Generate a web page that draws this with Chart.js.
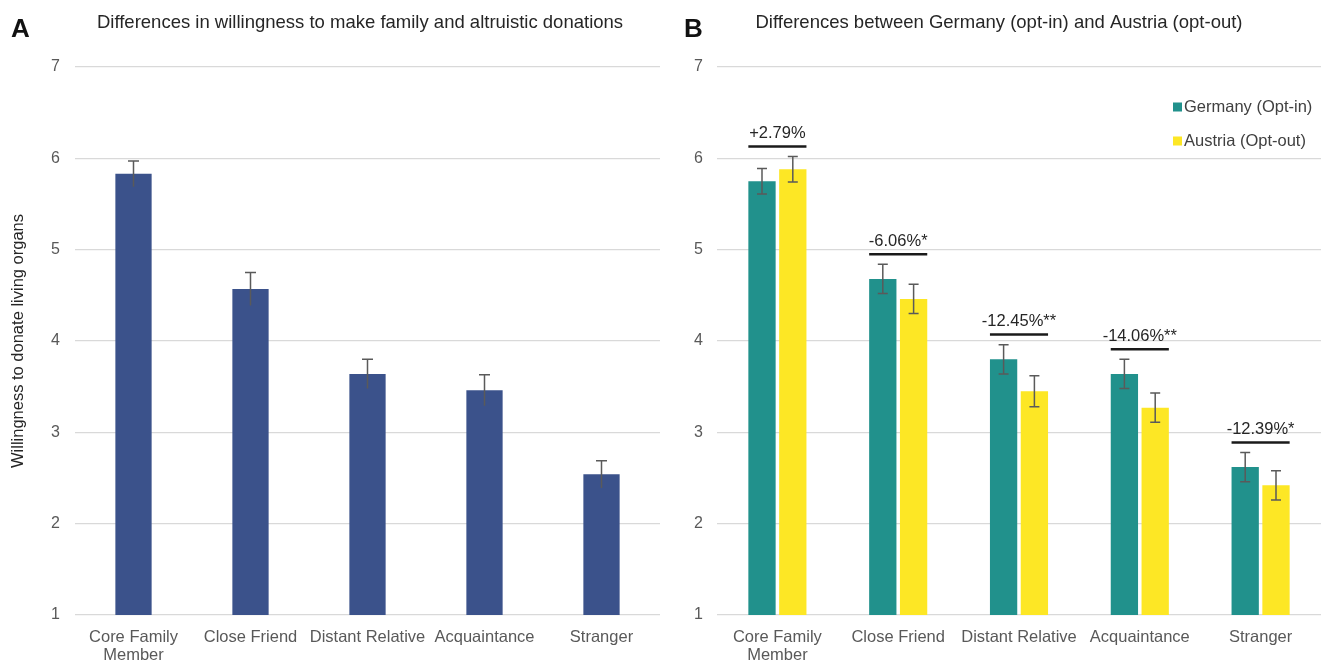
<!DOCTYPE html>
<html>
<head>
<meta charset="utf-8">
<script src="https://cdn.jsdelivr.net/npm/chart.js@4.4.1/dist/chart.umd.min.js"></script>
<style>
  body { margin: 0; background: #fff; }
  .panel { position: absolute; top: 0; height: 660px; }
  #panel-a { left: 0; width: 665px; }
  #panel-b { left: 665px; width: 658px; }
</style>
</head>
<body>
<div class="panel" id="panel-a"><canvas id="chart-a"></canvas></div>
<div class="panel" id="panel-b"><canvas id="chart-b"></canvas></div>
<script>
// Willingness to donate (1-7 scale), means with error bars
const categories = [["Core Family", "Member"], "Close Friend", "Distant Relative", "Acquaintance", "Stranger"];
const overallMeans = [5.83, 4.57, 3.64, 3.46, 2.54];
const overallErrors = [0.14, 0.18, 0.16, 0.17, 0.15];
const germanyMeans = [5.75, 4.68, 3.80, 3.64, 2.62];
const germanyErrors = [0.14, 0.16, 0.16, 0.16, 0.16];
const austriaMeans = [5.88, 4.46, 3.45, 3.27, 2.42];
const austriaErrors = [0.14, 0.16, 0.17, 0.16, 0.16];
const differenceLabels = ["+2.79%", "-6.06%*", "-12.45%**", "-14.06%**", "-12.39%*"];
const yMin = 1;
const yMax = 7;

const FONT = "'Liberation Sans', Arial, sans-serif";
Chart.defaults.font.family = FONT;
Chart.defaults.animation = false;

// Panel letter + heading
const headingPlugin = {
    id: "heading",
    afterDraw(chart, args, opts) {
        const ctx = chart.ctx;
        ctx.save();
        ctx.fillStyle = "#111";
        ctx.textBaseline = "middle";
        ctx.font = "bold 26px " + FONT;
        ctx.textAlign = "left";
        ctx.fillText(opts.letter, opts.letterX, 30);
        ctx.fillStyle = "#262626";
        ctx.font = "18.5px " + FONT;
        ctx.textAlign = "center";
        ctx.fillText(opts.text, opts.textX, 23);
        ctx.restore();
    }
};

// Error bars from each dataset's "errors" array
const errorBarPlugin = {
    id: "errorBars",
    afterDatasetsDraw(chart, args, opts) {
        const ctx = chart.ctx;
        const y = chart.scales.y;
        ctx.save();
        ctx.strokeStyle = "#5a5a5a";
        ctx.lineWidth = 1.5;
        chart.data.datasets.forEach((ds, i) => {
            const meta = chart.getDatasetMeta(i);
            meta.data.forEach((bar, j) => {
                const v = ds.data[j];
                const e = ds.errors[j];
                const top = y.getPixelForValue(v + e);
                const bottom = y.getPixelForValue(v - e);
                const half = opts.capWidth / 2;
                ctx.beginPath();
                ctx.moveTo(bar.x, top);
                ctx.lineTo(bar.x, bottom);
                ctx.moveTo(bar.x - half, top);
                ctx.lineTo(bar.x + half, top);
                if (opts.lowerCap) {
                    ctx.moveTo(bar.x - half, bottom);
                    ctx.lineTo(bar.x + half, bottom);
                }
                ctx.stroke();
            });
        });
        ctx.restore();
    }
};

// Comparison brackets with percentage differences above each pair
const bracketPlugin = {
    id: "brackets",
    afterDatasetsDraw(chart, args, opts) {
        if (!opts.labels) return;
        const ctx = chart.ctx;
        const y = chart.scales.y;
        const [g, a] = chart.data.datasets;
        const mg = chart.getDatasetMeta(0);
        const ma = chart.getDatasetMeta(1);
        ctx.save();
        opts.labels.forEach((label, i) => {
            const barG = mg.data[i];
            const barA = ma.data[i];
            const left = barG.x - barG.width / 2;
            const right = barA.x + barA.width / 2;
            const level = Math.max(g.data[i] + g.errors[i], a.data[i] + a.errors[i]) + opts.gap;
            const py = y.getPixelForValue(level);
            ctx.strokeStyle = "#1a1a1a";
            ctx.lineWidth = 2.5;
            ctx.beginPath();
            ctx.moveTo(left, py);
            ctx.lineTo(right, py);
            ctx.stroke();
            ctx.fillStyle = "#262626";
            ctx.font = "16.5px " + FONT;
            ctx.textAlign = "center";
            ctx.textBaseline = "bottom";
            ctx.fillText(label, (left + right) / 2, py - 5);
        });
        ctx.restore();
    }
};

// Small square legend inside the plot area
const boxLegendPlugin = {
    id: "boxLegend",
    afterDraw(chart, args, opts) {
        if (!opts.x) return;
        const ctx = chart.ctx;
        ctx.save();
        ctx.font = "16.5px " + FONT;
        ctx.textBaseline = "middle";
        ctx.textAlign = "left";
        chart.data.datasets.forEach((ds, i) => {
            const cy = opts.y + i * opts.spacing;
            ctx.fillStyle = ds.backgroundColor;
            ctx.fillRect(opts.x, cy - 4.5, 9, 9);
            ctx.fillStyle = "#404040";
            ctx.fillText(ds.label, opts.x + 11, cy);
        });
        ctx.restore();
    }
};

function axes(yWidth, yPadding, yTitle) {
    return {
        x: {
            grid: { display: false },
            border: { display: false },
            ticks: {
                font: { size: 16.5, lineHeight: 1.12 },
                color: "#595959",
                padding: 5,
                maxRotation: 0,
                minRotation: 0,
                autoSkip: false
            },
            afterFit: (s) => { s.height = 45; }
        },
        y: {
            min: yMin,
            max: yMax,
            ticks: { stepSize: 1, font: { size: 16 }, color: "#595959", padding: yPadding },
            grid: { color: "#d9d9d9", lineWidth: 1.2, drawTicks: false },
            border: { display: false },
            title: yTitle ? {
                display: true,
                text: yTitle,
                font: { size: 16.5 },
                color: "#262626",
                padding: { top: 9, bottom: 0 }
            } : { display: false },
            afterFit: (s) => { s.width = yWidth; }
        }
    };
}

new Chart(document.getElementById("chart-a"), {
    type: "bar",
    data: {
        labels: categories,
        datasets: [{
            label: "Willingness",
            data: overallMeans,
            errors: overallErrors,
            backgroundColor: "#3b528b",
            categoryPercentage: 1,
            barPercentage: 0.31
        }]
    },
    options: {
        responsive: true,
        maintainAspectRatio: false,
        layout: { padding: { top: 67, right: 5, bottom: 0, left: 0 } },
        scales: axes(75, 15, "Willingness to donate living organs"),
        plugins: {
            legend: { display: false },
            tooltip: { enabled: false },
            heading: { letter: "A", letterX: 11, text: "Differences in willingness to make family and altruistic donations", textX: 360 },
            errorBars: { capWidth: 11, lowerCap: false },
            brackets: {},
            boxLegend: {}
        }
    },
    plugins: [headingPlugin, errorBarPlugin, bracketPlugin, boxLegendPlugin]
});

new Chart(document.getElementById("chart-b"), {
    type: "bar",
    data: {
        labels: categories,
        datasets: [
            {
                label: "Germany (Opt-in)",
                data: germanyMeans,
                errors: germanyErrors,
                backgroundColor: "#21918c",
                categoryPercentage: 0.51,
                barPercentage: 0.886
            },
            {
                label: "Austria (Opt-out)",
                data: austriaMeans,
                errors: austriaErrors,
                backgroundColor: "#fde725",
                categoryPercentage: 0.51,
                barPercentage: 0.886
            }
        ]
    },
    options: {
        responsive: true,
        maintainAspectRatio: false,
        layout: { padding: { top: 67, right: 2, bottom: 0, left: 0 } },
        scales: axes(52, 14, null),
        plugins: {
            legend: { display: false },
            tooltip: { enabled: false },
            heading: { letter: "B", letterX: 19, text: "Differences between Germany (opt-in) and Austria (opt-out)", textX: 334 },
            errorBars: { capWidth: 10, lowerCap: true },
            brackets: { labels: differenceLabels, gap: 0.11 },
            boxLegend: { x: 508, y: 107, spacing: 34 }
        }
    },
    plugins: [headingPlugin, errorBarPlugin, bracketPlugin, boxLegendPlugin]
});
</script>
</body>
</html>
